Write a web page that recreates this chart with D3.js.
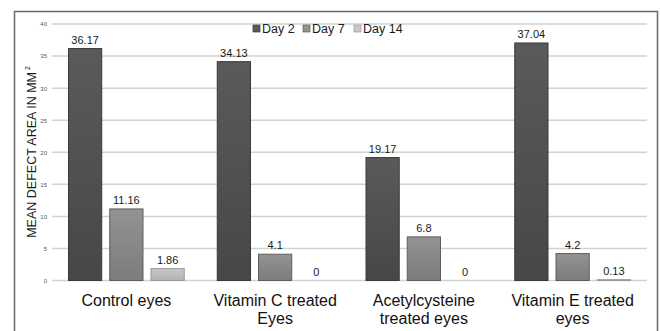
<!DOCTYPE html>
<html><head><meta charset="utf-8">
<script src="https://cdn.jsdelivr.net/npm/d3@7"></script>
<style>body{margin:0;background:#fff}svg{display:block;font-family:"Liberation Sans",Arial,sans-serif}</style>
</head><body><svg id="c" width="660" height="331"></svg>
<script>
const categories = [["Control eyes"], ["Vitamin C treated", "Eyes"], ["Acetylcysteine", "treated eyes"], ["Vitamin E treated", "eyes"]];
const seriesNames = ["Day 2", "Day 7", "Day 14"];
const day2 = [36.17, 34.13, 19.17, 37.04];
const day7 = [11.16, 4.1, 6.8, 4.2];
const day14 = [1.86, 0, 0, 0.13];
const yTicks = [0, 5, 10, 15, 20, 25, 30, 35, 40];

const series = [day2, day7, day14];
const fills = [["#5a5a5a", "#474747"], ["#939393", "#7c7c7c"], ["#c8c8c8", "#b3b3b3"]];
const strokes = ["#3a3a3a", "#5e5e5e", "#9a9a9a"];

const svg = d3.select("#c");
const defs = svg.append("defs");
fills.forEach((f, i) => {
  const g = defs.append("linearGradient").attr("id", "g" + i).attr("x1", 0).attr("x2", 0).attr("y1", 0).attr("y2", 1);
  g.append("stop").attr("offset", "0%").attr("stop-color", f[0]);
  g.append("stop").attr("offset", "100%").attr("stop-color", f[1]);
});

svg.append("rect").attr("x", 14.5).attr("y", 11.5).attr("width", 643).attr("height", 340)
  .attr("fill", "none").attr("stroke", "#666").attr("stroke-width", 1.5);

const x0 = d3.scaleBand().domain(d3.range(categories.length)).range([52, 647]).paddingInner(0).paddingOuter(0);
const x1 = d3.scaleBand().domain(d3.range(series.length)).range([16, x0.bandwidth() - 16]).paddingInner(0.17).paddingOuter(0);
const y = d3.scaleLinear().domain([0, 40]).range([280.5, 24]);

svg.append("g").selectAll("line").data(yTicks).join("line")
  .attr("x1", 52).attr("x2", 647).attr("y1", d => y(d)).attr("y2", d => y(d))
  .attr("stroke", "#d2d2d2").attr("stroke-width", 1.5);

const ya = svg.append("g").attr("transform", "translate(47,0)")
  .call(d3.axisLeft(y).tickValues(yTicks).tickSize(0).tickPadding(0));
ya.select(".domain").remove();
ya.selectAll("text").attr("font-size", 6).attr("fill", "#555").attr("font-family", "Liberation Sans, Arial");

const yt = svg.append("text").attr("transform", "translate(36,152) rotate(-90)")
  .attr("text-anchor", "middle").attr("font-size", 12.5).attr("fill", "#1a1a1a");
yt.append("tspan").text("MEAN DEFECT AREA IN MM");
yt.append("tspan").attr("font-size", 7).attr("dy", -6).text(" 2");

categories.forEach((c, ci) => {
  const g = svg.append("g").attr("transform", `translate(${x0(ci)},0)`);
  series.forEach((s, si) => {
    const v = s[ci];
    const bx = x1(si), bw = x1.bandwidth();
    if (v > 0) {
      g.append("rect").attr("x", bx + 0.5).attr("y", y(v)).attr("width", bw - 1).attr("height", Math.max(0.8, y(0) - y(v)))
        .attr("fill", `url(#g${si})`).attr("stroke", strokes[si]).attr("stroke-width", 1);
    }
    g.append("text").attr("x", bx + bw / 2).attr("y", y(v) - 5).attr("text-anchor", "middle")
      .attr("font-size", 11).attr("fill", "#1a1a1a").text(v);
  });
  const t = g.append("text").attr("text-anchor", "middle").attr("font-size", 16).attr("fill", "#111");
  c.forEach((line, li) => {
    t.append("tspan").attr("x", x0.bandwidth() / 2).attr("y", 305.5 + li * 18).text(line);
  });
});

const lx = [253, 303, 354];
const lg = svg.append("g");
seriesNames.forEach((n, i) => {
  lg.append("rect").attr("x", lx[i]).attr("y", 25).attr("width", 7).attr("height", 7)
    .attr("fill", fills[i][0]).attr("stroke", strokes[i]).attr("stroke-width", 0.7);
  lg.append("text").attr("x", lx[i] + 9).attr("y", 33).attr("font-size", 12.5).attr("fill", "#1a1a1a").text(n);
});
</script></body></html>
